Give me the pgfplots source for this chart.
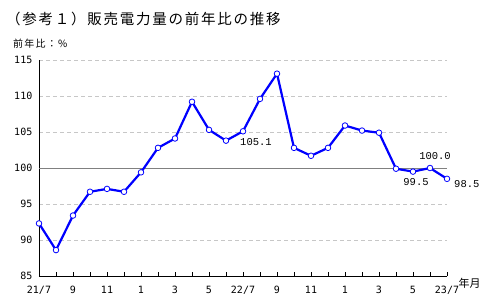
\documentclass[border=0pt]{standalone}
\usepackage{fontspec}
\usepackage{pgfplots}
\pgfplotsset{compat=1.18}
\setmainfont{Liberation Sans}
\newfontfamily\jpfont{Noto Sans CJK JP}
\newfontfamily\jptitle[LetterSpace=12]{Noto Sans CJK JP}
\newfontfamily\monofont{DejaVu Sans Mono}
\newfontfamily\labfont{Liberation Mono}
\begin{document}
\begin{tikzpicture}[x=1pt,y=1pt]
\useasboundingbox (0,0) rectangle (495,295);
\node[anchor=west,inner sep=0pt,font=\jptitle\fontsize{14.5}{16}\selectfont] at (6,276.5) {（参考１）販売電力量の前年比の推移};
\node[anchor=west,inner sep=0pt,font=\jptitle\fontsize{10}{12}\selectfont] at (13,251) {前年比：\%};
\node[anchor=center,inner sep=0pt,font=\jpfont\fontsize{11}{12}\selectfont] at (469.5,12) {年月};
\begin{axis}[
  at={(39pt,19pt)}, anchor=south west,
  scale only axis, width=408pt, height=216pt,
  xmin=0, xmax=24, ymin=85, ymax=115,
  axis x line*=bottom, axis y line*=left,
  axis line style={black, line width=0.8pt, -},
  xtick={0,2,...,24},
  minor xtick={1,3,...,23},
  xticklabels={21/7,9,11,1,3,5,22/7,9,11,1,3,5,23/7},
  xtick align=inside,
  major tick length=4pt, minor tick length=4pt,
  tick style={black, line width=0.6pt},
  ytick={85,90,95,105,110,115},
  extra y ticks={100},
  extra y tick style={grid=major, major grid style={solid, color=black!50, line width=0.7pt}},
  ytick style={draw=none},
  ymajorgrids,
  major grid style={dashed, color=black!22, line width=0.7pt, dash pattern=on 4pt off 3pt},
  /pgf/number format/assume math mode=true,
  ticklabel style={font=\monofont\fontsize{10}{11}\selectfont},
  xticklabel style={inner sep=0pt, anchor=north, yshift=-10pt},
  yticklabel style={inner sep=0pt, anchor=east, xshift=-6.5pt},
  clip=false,
]
\addplot[color=blue, line width=2.2pt, mark=*, mark size=2.8pt,
  mark options={fill=white, draw=blue, line width=0.8pt, solid}]
coordinates {
(0,92.3) (1,88.6) (2,93.4) (3,96.7) (4,97.1) (5,96.7) (6,99.4) (7,102.8)
(8,104.1) (9,109.2) (10,105.3) (11,103.8) (12,105.1) (13,109.6) (14,113.1)
(15,102.8) (16,101.7) (17,102.8) (18,105.9) (19,105.2) (20,104.9) (21,99.9)
(22,99.5) (23,100.0) (24,98.5)
};
\node[font=\labfont\fontsize{10.5}{12}\selectfont, inner sep=0pt] at ([xshift=13pt,yshift=-11pt]axis cs:12,105.1) {105.1};
\node[font=\labfont\fontsize{10.5}{12}\selectfont, inner sep=0pt] at ([xshift=3pt,yshift=-10.5pt]axis cs:22,99.5) {99.5};
\node[font=\labfont\fontsize{10.5}{12}\selectfont, inner sep=0pt] at ([xshift=5pt,yshift=12pt]axis cs:23,100.0) {100.0};
\node[font=\labfont\fontsize{10.5}{12}\selectfont, inner sep=0pt, anchor=west] at ([xshift=7pt,yshift=-5pt]axis cs:24,98.5) {98.5};
\end{axis}
\end{tikzpicture}
\end{document}
